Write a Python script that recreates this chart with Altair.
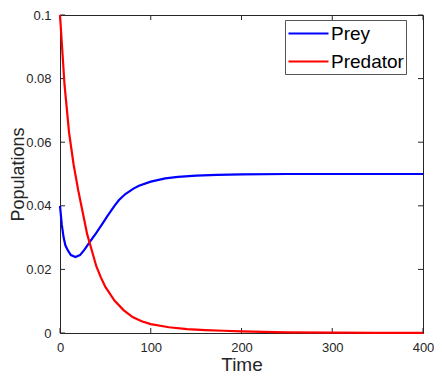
import altair as alt
import pandas as pd

# Prey population (blue)
prey_t = [0, 2, 4, 6, 9, 12, 17, 22, 27, 32.5, 40, 47, 52, 60, 65, 72, 81, 87, 100, 116, 130, 150, 173, 200, 250, 300, 350, 400]
prey_v = [0.040, 0.0340, 0.0300, 0.0275, 0.0258, 0.0245, 0.0239, 0.0245, 0.0262, 0.0285, 0.0315, 0.0345, 0.0367, 0.0400, 0.0418, 0.0437, 0.0454, 0.0463, 0.0476, 0.0486, 0.0491, 0.0495, 0.0497, 0.0499, 0.0500, 0.0500, 0.0500, 0.0500]

# Predator population (red)
pred_t = [0, 5, 10, 15, 20, 25, 30, 35, 40, 45, 50, 60, 70, 80, 90, 100, 120, 140, 160, 180, 200, 250, 300, 350, 400]
pred_v = [0.100, 0.078, 0.063, 0.053, 0.045, 0.038, 0.031, 0.026, 0.021, 0.0175, 0.0145, 0.0102, 0.0072, 0.0050, 0.0037, 0.0028, 0.0018, 0.0012, 0.0009, 0.0007, 0.0005, 0.0002, 0.0001, 0.00005, 0.00003]

series_names = ["Prey", "Predator"]
series_colors = ["#0000ff", "#ff0000"]

x_ticks = [0, 100, 200, 300, 400]
y_ticks = [0, 0.02, 0.04, 0.06, 0.08, 0.1]

df = pd.concat([
    pd.DataFrame({"Time": prey_t, "Populations": prey_v, "series": "Prey", "order": range(len(prey_t))}),
    pd.DataFrame({"Time": pred_t, "Populations": pred_v, "series": "Predator", "order": range(len(pred_t))}),
])

W, H = 363, 318
AXC = "#262626"
FONT = "Liberation Sans"

xscale = alt.Scale(domain=[0, 400], nice=False, zero=False)
yscale = alt.Scale(domain=[0, 0.1], nice=False)

lines = alt.Chart(df).mark_line(strokeWidth=2.2).encode(
    x=alt.X("Time:Q", scale=xscale,
            axis=alt.Axis(values=x_ticks, ticks=False, grid=False, title="Time",
                          labelFontSize=13, titleFontSize=19, titleFontWeight="normal",
                          labelPadding=8, titleY=37, titleBaseline="alphabetic",
                          labelColor=AXC, titleColor=AXC,
                          labelFlush=False, labelOverlap=False,
                          domainColor=AXC, labelFont=FONT, titleFont=FONT)),
    y=alt.Y("Populations:Q", scale=yscale,
            axis=alt.Axis(values=y_ticks, ticks=False, grid=False, title="Populations",
                          labelFontSize=13, titleFontSize=18, titleFontWeight="normal",
                          labelPadding=9, labelColor=AXC, titleColor=AXC,
                          labelFlush=False, labelOverlap=False,
                          titleX=-33, titleBaseline="bottom",
                          domainColor=AXC, labelFont=FONT, titleFont=FONT,
                          labelExpr="datum.value == 0 ? '0' : format(datum.value, '.2~f')")),
    color=alt.Color("series:N",
                    scale=alt.Scale(domain=series_names, range=series_colors),
                    sort=series_names,
                    legend=alt.Legend(title=None, orient="none", legendX=225, legendY=5,
                                      symbolType="M-1,0H3", symbolSize=400, symbolStrokeWidth=2.2,
                                      labelFontSize=19, labelFont=FONT, labelColor="#000000",
                                      labelOffset=21,
                                      labelExpr="datum.label + '\u00a0\u00a0\u00a0\u00a0'",
                                      fillColor="white", strokeColor="#555555", padding=2,
                                      rowPadding=6)),
    order="order:Q",
)

xt = pd.DataFrame({"t": x_ticks})
yt = pd.DataFrame({"v": y_ticks})
TK = 5
tick_style = dict(color=AXC, strokeWidth=1)

xb = alt.Chart(xt).mark_rule(**tick_style).encode(
    x=alt.X("t:Q", scale=xscale), y=alt.value(H), y2=alt.value(H - TK))
xtop = alt.Chart(xt).mark_rule(**tick_style).encode(
    x=alt.X("t:Q", scale=xscale), y=alt.value(0), y2=alt.value(TK))
yl = alt.Chart(yt).mark_rule(**tick_style).encode(
    y=alt.Y("v:Q", scale=yscale), x=alt.value(0), x2=alt.value(TK))
yr = alt.Chart(yt).mark_rule(**tick_style).encode(
    y=alt.Y("v:Q", scale=yscale), x=alt.value(W), x2=alt.value(W - TK))

chart = alt.layer(xb, xtop, yl, yr, lines).properties(
    width=W, height=H,
    autosize=alt.AutoSizeParams(type="none"),
    padding={"left": 52, "top": 7, "right": 11, "bottom": 40},
).configure_view(stroke=AXC, strokeWidth=1)

chart.save("out.html", embed_options={"renderer": "svg", "actions": False})
